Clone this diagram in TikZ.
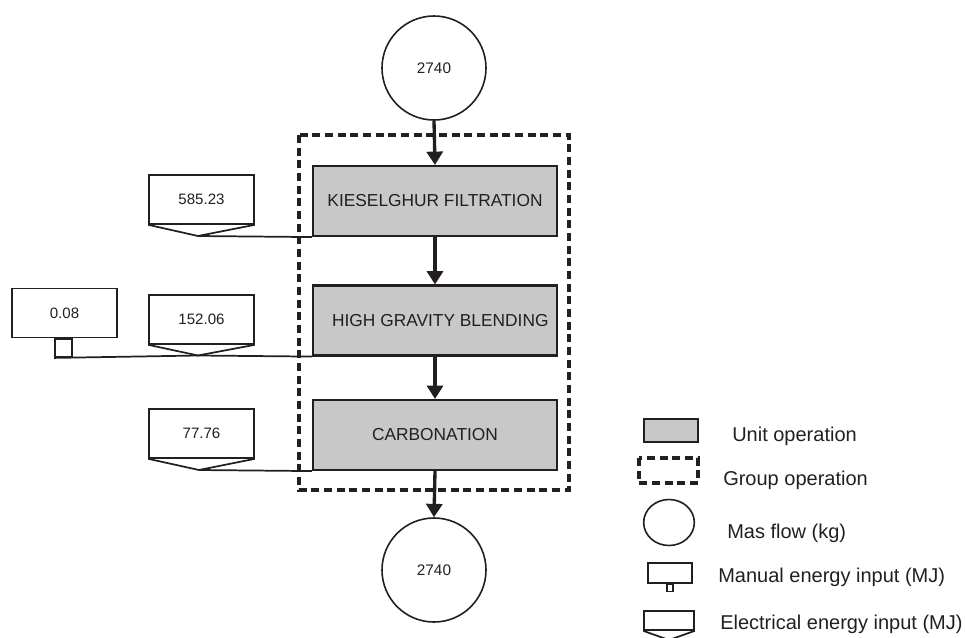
\documentclass[tikz,border=0pt]{standalone}
\usepackage{fontspec}
\setmainfont{Liberation Sans}
\usetikzlibrary{arrows.meta,shapes.geometric}
\definecolor{ink}{HTML}{231F20}
\definecolor{unitfill}{HTML}{C8C8C8}
\tikzset{
  every node/.style={text=ink},
  unitop/.style={draw=ink, line width=1.6pt, fill=unitfill, minimum width=183pt, minimum height=52.5pt, inner sep=0pt, font=\fontsize{13}{15}\selectfont},
  massflow/.style={draw=ink, line width=1.2pt, circle, minimum size=78pt, inner sep=0pt, font=\fontsize{11.5}{13}\selectfont},
  energybox/.style={draw=ink, line width=1.2pt, fill=white, minimum width=78.75pt, minimum height=36.75pt, inner sep=0pt, font=\fontsize{11.3}{13}\selectfont},
  tabbox/.style={draw=ink, line width=1.2pt, fill=white, minimum width=12.75pt, minimum height=13.5pt, inner sep=0pt},
  feed/.style={draw=ink, line width=1.3pt},
  flow/.style={draw=ink, line width=2.5pt, -{Triangle[length=10pt,width=12pt]}},
  groupop/.style={draw=ink, line width=2.4pt, dash pattern=on 6pt off 3.5pt},
  legendtext/.style={anchor=west, inner sep=0pt, font=\fontsize{15}{17}\selectfont},
}
\begin{document}
\begin{tikzpicture}[x=0.75pt,y=-0.75pt]
\useasboundingbox (0,0) rectangle (965,637);

% group operation frame
\draw[groupop] (299,135) rectangle (569,490);

% mass flows and unit operations
\node[massflow] (in)  at (434,68)  {2740};
\node[unitop] (kf) at (435,201) {KIESELGHUR FILTRATION};
\node[unitop] (hg) at (435,320.5) {\hspace{8pt}HIGH GRAVITY BLENDING};
\node[unitop] (cb) at (435,435) {CARBONATION\hspace{14pt}};
\node[massflow] (out) at (434,570) {2740};

\draw[flow] (in.south) -- (kf.north);
\draw[flow] (kf.south) -- (hg.north);
\draw[flow] (hg.south) -- (cb.north);
\draw[flow] (cb.south) -- (out.north);

% electrical energy inputs
\node[energybox] (e1) at (201.5,199.5) {\raisebox{-3pt}{585.23}};
\coordinate (t1) at (198,236);
\draw[feed] (e1.south west) -- (t1) -- (e1.south east);
\draw[feed] (t1) -- (kf.south west);

\node[energybox] (e2) at (201.5,319.5) {\raisebox{-3pt}{152.06}};
\coordinate (t2) at (198,355.5);
\draw[feed] (e2.south west) -- (t2) -- (e2.south east);

\node[energybox] (e3) at (201.5,433.5) {\raisebox{-3pt}{77.76}};
\coordinate (t3) at (199,470);
\draw[feed] (e3.south west) -- (t3) -- (e3.south east);
\draw[feed] (t3) -- (cb.south west);

% manual energy input
\node[energybox] (m1) at (64.5,313) {0.08};
\node[tabbox] (m1t) at (m1.south -| 63.5,0) [anchor=north] {};
\draw[feed] (m1t.south west) -- (t2) -- (hg.south west);

% legend
\node[draw=ink, line width=1.6pt, fill=unitfill, minimum width=40.5pt, minimum height=17.25pt, inner sep=0pt] (lu) at (671,430.5) {};
\node[legendtext] at (732,436) {Unit operation};
\draw[groupop] (639,458) rectangle (698,483);
\node[legendtext] at (723,480) {Group operation};
\node[draw=ink, line width=1.2pt, ellipse, minimum width=38pt, minimum height=34.5pt, inner sep=0pt] (lc) at (669,522.5) {};
\node[legendtext] at (727,533) {Mas flow (kg)};
\node[draw=ink, line width=1.2pt, minimum width=33pt, minimum height=15pt, inner sep=0pt] (lm) at (670,573) {};
\node[draw=ink, line width=1.2pt, minimum width=4.5pt, minimum height=5.25pt, inner sep=0pt, anchor=north] (lmt) at (lm.south) {};
\node[legendtext] at (718,577) {Manual energy input (MJ)};
\node[draw=ink, line width=1.2pt, minimum width=37.5pt, minimum height=14.25pt, inner sep=0pt] (le) at (669,620.5) {};
\coordinate (lt) at (669,640);
\draw[feed] (le.south west) -- (lt) -- (le.south east);
\node[legendtext] at (720,624) {Electrical energy input (MJ)};
\end{tikzpicture}
\end{document}
